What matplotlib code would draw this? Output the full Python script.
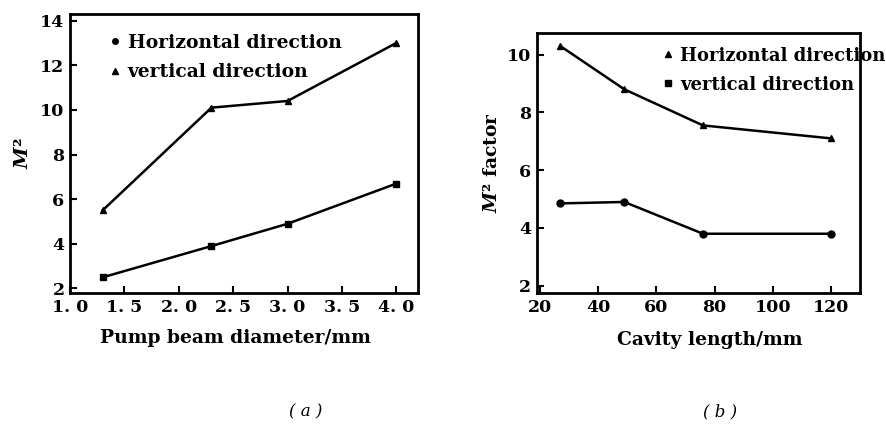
import matplotlib
matplotlib.use("Agg")
import matplotlib.pyplot as plt
from matplotlib.lines import Line2D

# Panel (a)
pump_diam = [1.3, 2.3, 3.0, 4.0]
a_horizontal = [2.5, 3.9, 4.9, 6.7]
a_vertical = [5.5, 10.1, 10.4, 13.0]
a_xticks = [1.0, 1.5, 2.0, 2.5, 3.0, 3.5, 4.0]
a_xticklabels = ["1. 0", "1. 5", "2. 0", "2. 5", "3. 0", "3. 5", "4. 0"]
a_yticks = [2, 4, 6, 8, 10, 12, 14]

# Panel (b)
cavity_len = [27, 49, 76, 120]
b_horizontal = [10.3, 8.8, 7.55, 7.1]
b_vertical = [4.85, 4.9, 3.8, 3.8]
b_xticks = [20, 40, 60, 80, 100, 120]
b_yticks = [2, 4, 6, 8, 10]

plt.rcParams['font.family'] = ['DejaVu Serif']
plt.rcParams['font.weight'] = 'bold'
plt.rcParams['axes.labelweight'] = 'bold'
plt.rcParams['mathtext.fontset'] = 'custom'
plt.rcParams['mathtext.it'] = 'DejaVu Serif:italic:bold'
plt.rcParams['mathtext.rm'] = 'DejaVu Serif:bold'

fig = plt.figure(figsize=(8.86, 4.34), dpi=100)
axA = fig.add_axes([0.079, 0.325, 0.393, 0.643])
axB = fig.add_axes([0.606, 0.325, 0.365, 0.599])

lw = 1.8
ms = 5
for ax in (axA, axB):
    for s in ax.spines.values():
        s.set_linewidth(2.0)
    ax.tick_params(direction='in', length=5, width=1.5, labelsize=12.5, pad=4)

# (a)
axA.plot(pump_diam, a_vertical, color='black', lw=lw, marker='^', ms=ms)
axA.plot(pump_diam, a_horizontal, color='black', lw=lw, marker='s', ms=ms)
axA.set_xlim(1.0, 4.2)
axA.set_ylim(1.8, 14.3)
axA.set_xticks(a_xticks)
axA.set_xticklabels(a_xticklabels)
axA.set_yticks(a_yticks)
axA.set_xlabel("Pump beam diameter/mm", fontsize=13.5)
axA.xaxis.set_label_coords(0.474, -0.13)
axA.set_ylabel("$M$²", fontsize=14, labelpad=6)
hA = [Line2D([], [], color='black', marker='o', ms=4, ls='none'),
      Line2D([], [], color='black', marker='^', ms=4, ls='none')]
axA.legend(hA, ["Horizontal direction", "vertical direction"], loc='upper left',
           bbox_to_anchor=(0.085, 0.955), frameon=False, fontsize=13.5,
           handletextpad=0.3, labelspacing=0.6, borderaxespad=0, handlelength=0.8)

# (b)
axB.plot(cavity_len, b_horizontal, color='black', lw=lw, marker='^', ms=ms)
axB.plot(cavity_len, b_vertical, color='black', lw=lw, marker='o', ms=ms)
axB.set_xlim(19, 130)
axB.set_ylim(1.75, 10.75)
axB.set_xticks(b_xticks)
axB.set_yticks(b_yticks)
axB.set_xlabel("Cavity length/mm", fontsize=13.5)
axB.xaxis.set_label_coords(0.535, -0.145)
axB.set_ylabel("$M$² factor", fontsize=13.5, labelpad=4)
hB = [Line2D([], [], color='black', marker='^', ms=4, ls='none'),
      Line2D([], [], color='black', marker='s', ms=4, ls='none')]
legB = axB.legend(hB, ["Horizontal direction", "vertical direction"], loc='upper left',
                  bbox_to_anchor=(0.36, 0.975), frameon=False, fontsize=13,
                  handletextpad=0.3, labelspacing=0.6, borderaxespad=0, handlelength=0.8)
legB.set_clip_on(False)

fig.text(0.345, 0.04, "( a )", fontsize=12, fontweight='normal', style='italic', ha='center')
fig.text(0.813, 0.04, "( b )", fontsize=12, fontweight='normal', style='italic', ha='center')

fig.savefig("out.png", dpi=100)
